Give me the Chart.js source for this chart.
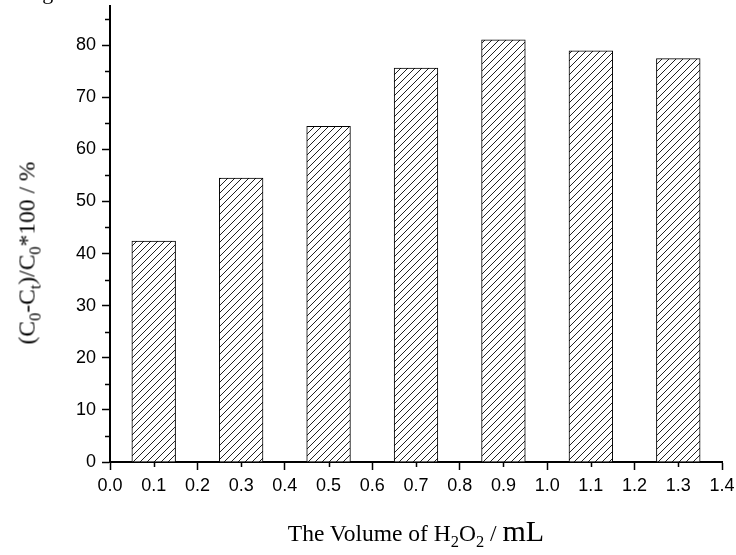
<!DOCTYPE html>
<html>
<head>
<meta charset="utf-8">
<script src="https://cdn.jsdelivr.net/npm/chart.js@4.4.0/dist/chart.umd.min.js"></script>
<style>
    html, body { margin: 0; padding: 0; background: #fff; overflow: hidden; }
    #wrap { position: relative; width: 736px; height: 555px; overflow: hidden; }
    #chart { position: absolute; left: 0; top: 0; }
    .serif { position: absolute; white-space: nowrap; color: #000; font-family: 'Liberation Serif', 'Times New Roman', serif; }
    #fig { left: 24px; top: -21px; font-size: 22px; }
    #ytitle { left: 27px; top: 253px; font-size: 23.5px; transform: translate(-50%, -50%) rotate(-90deg); }
    #xtitle { left: 416px; top: 514px; font-size: 23.5px; transform: translateX(-50%); }
    #xtitle .big { font-size: 30px; }
    sub { font-size: 70%; vertical-align: -0.35em; line-height: 0; }
</style>
</head>
<body>
<div id="wrap">
    <canvas id="chart" width="736" height="555"></canvas>
    <div id="fig" class="serif">Figure 3</div>
    <div id="ytitle" class="serif">(C<sub>0</sub>-C<sub>t</sub>)/C<sub>0</sub>*100 / %</div>
    <div id="xtitle" class="serif">The Volume of H<sub>2</sub>O<sub>2</sub> / <span class="big">mL</span></div>
</div>
<script>
// H2O2 volume (mL) and removal ratio (%)
const volumes = [0.1, 0.3, 0.5, 0.7, 0.9, 1.1, 1.3];
const removal = [42.4, 54.5, 64.4, 75.6, 81.0, 78.9, 77.4];
const xTicks = [0.0, 0.1, 0.2, 0.3, 0.4, 0.5, 0.6, 0.7, 0.8, 0.9, 1.0, 1.1, 1.2, 1.3, 1.4];
const yTicks = [0, 5, 10, 15, 20, 25, 30, 35, 40, 45, 50, 55, 60, 65, 70, 75, 80, 85];

// diagonal hatch fill
function hatchPattern() {
    const tile = document.createElement('canvas');
    tile.width = 7; tile.height = 7;
    const t = tile.getContext('2d');
    t.fillStyle = '#fff';
    t.fillRect(0, 0, 7, 7);
    t.strokeStyle = '#222';
    t.lineWidth = 1;
    t.beginPath();
    t.moveTo(0, 7); t.lineTo(7, 0);
    t.moveTo(-1, 1); t.lineTo(1, -1);
    t.moveTo(6, 8); t.lineTo(8, 6);
    t.stroke();
    return t.createPattern(tile, 'repeat');
}

// short ticks between the labelled ones
const minorTicks = {
    id: 'minorTicks',
    afterDraw(chart) {
        const { ctx, scales: { x, y } } = chart;
        ctx.save();
        ctx.strokeStyle = '#000';
        ctx.lineWidth = 1.5;
        ctx.beginPath();
        xTicks.forEach((v, i) => {
            if (i % 2) {
                const px = Math.round(x.getPixelForValue(v)) + 0.5;
                ctx.moveTo(px, y.bottom);
                ctx.lineTo(px, y.bottom + 5);
            }
        });
        yTicks.forEach(v => {
            if (v % 10) {
                const py = Math.round(y.getPixelForValue(v)) + 0.5;
                ctx.moveTo(x.left, py);
                ctx.lineTo(x.left - 5, py);
            }
        });
        ctx.stroke();
        ctx.restore();
    }
};

const ctx = document.getElementById('chart').getContext('2d');
new Chart(ctx, {
    type: 'bar',
    data: {
        datasets: [{
            data: volumes.map((v, i) => ({ x: v, y: removal[i] })),
            backgroundColor: hatchPattern(),
            borderColor: '#000',
            borderWidth: 1,
            categoryPercentage: 1,
            barPercentage: 1
        }]
    },
    options: {
        responsive: false,
        animation: false,
        layout: { padding: { top: 6, right: 14, bottom: 0, left: 0 } },
        plugins: { legend: { display: false }, tooltip: { enabled: false } },
        scales: {
            x: {
                type: 'linear', min: 0, max: 1.4, offset: false,
                afterBuildTicks: s => { s.ticks = xTicks.map(v => ({ value: v })); },
                afterFit: s => { s.height = 93; s.paddingLeft = 0; s.paddingRight = 0; },
                ticks: { color: '#000', font: { family: 'Liberation Sans', size: 18 }, padding: 5, maxRotation: 0, autoSkip: false,
                    callback: v => v.toFixed(1) },
                grid: { offset: false, drawOnChartArea: false, tickLength: 8, tickWidth: 1.5,
                    tickColor: c => (Math.round(c.tick.value * 10) % 2 === 0 ? '#000' : 'rgba(0,0,0,0)') },
                border: { display: true, color: '#000', width: 2 }
            },
            y: {
                min: 0, max: 87.5,
                afterBuildTicks: s => { s.ticks = yTicks.map(v => ({ value: v })); },
                afterFit: s => { s.width = 110; s.paddingTop = 0; s.paddingBottom = 0; },
                ticks: { color: '#000', font: { family: 'Liberation Sans', size: 18 }, padding: 6, autoSkip: false,
                    callback: v => (v % 10 === 0 ? v : '') },
                grid: { drawOnChartArea: false, tickLength: 8, tickWidth: 1.5,
                    tickColor: c => (c.tick.value % 10 === 0 ? '#000' : 'rgba(0,0,0,0)') },
                border: { display: true, color: '#000', width: 2 }
            }
        }
    },
    plugins: [minorTicks]
});
</script>
</body>
</html>
